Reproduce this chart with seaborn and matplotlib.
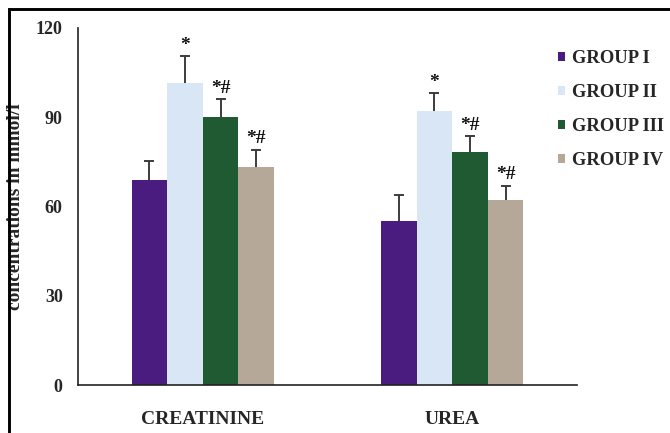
import matplotlib
matplotlib.use("Agg")
import matplotlib.pyplot as plt
from matplotlib.patches import Rectangle
import seaborn as sns
import pandas as pd

# Serum markers per treatment group (mean and upper SD)
parameters = ["CREATININE", "UREA"]
groups = ["GROUP I", "GROUP II", "GROUP III", "GROUP IV"]
creatinine_mean = [68.8, 101.6, 90.0, 73.2]
creatinine_sd = [6.4, 8.9, 6.0, 5.9]
urea_mean = [55.2, 92.1, 78.2, 62.1]
urea_sd = [8.7, 6.0, 5.5, 4.9]
significance = ["", "*", "*#", "*#"]
y_ticks = [0, 30, 60, 90, 120]

colors = ["#4b1c80", "#d8e6f5", "#1f5a32", "#b5a898"]

rows = []
for p, means, sds in [(parameters[0], creatinine_mean, creatinine_sd),
                      (parameters[1], urea_mean, urea_sd)]:
    for g, m, s, sig in zip(groups, means, sds, significance):
        rows.append({"parameter": p, "group": g, "value": m, "sd": s, "sig": sig})
df = pd.DataFrame(rows)

sns.set_style("white")
plt.rcParams["font.family"] = ["Liberation Serif", "DejaVu Serif"]
plt.rcParams["font.weight"] = "bold"

W, H = 670, 433
fig = plt.figure(figsize=(W / 100, H / 100), dpi=100)
ax = fig.add_axes([78 / W, 1 - 385 / H, (577 - 78) / W, (385 - 28) / H])

sns.barplot(data=df, x="parameter", y="value", hue="group", order=parameters,
            hue_order=groups, palette=colors, width=0.57, gap=0,
            errorbar=None, saturation=1, linewidth=0, ax=ax)

# Upward-only error bars and significance marks on each bar
for bar_cont, g in zip(ax.containers, groups):
    sub = df[df["group"] == g].set_index("parameter").loc[parameters]
    for rect, (_, r) in zip(bar_cont.patches, sub.iterrows()):
        cx = rect.get_x() + rect.get_width() / 2
        top = rect.get_height()
        _, caps, _ = ax.errorbar(cx, top, yerr=[[0], [r["sd"]]], fmt="none",
                                 ecolor="#3c3c3c", elinewidth=1.4, capsize=3.8,
                                 capthick=1.4)
        caps[0].set_visible(False)
        if r["sig"]:
            ax.text(cx, top + r["sd"] + 0.8, r["sig"], ha="center", va="bottom",
                    fontsize=14, fontweight="bold", color="#111111")

ax.set_ylim(0, 120)
ax.set_xlim(-0.5, 1.5)
ax.set_yticks(y_ticks)
ax.set_yticklabels([str(t) for t in y_ticks], fontsize=13, fontweight="bold")
ax.tick_params(axis="y", direction="out", length=5, width=1.1, color="#222222", pad=6)
ax.tick_params(axis="x", length=0, pad=19, labelsize=14)
for lab in ax.get_xticklabels():
    lab.set_fontweight("bold")
ax.set_xlabel("")
ax.set_ylabel("")
fig.text(16 / W, 1 - 207 / H, "concentrations in mmol/l", rotation=90,
         ha="center", va="center", fontsize=14, fontweight="bold")
for side in ["top", "right"]:
    ax.spines[side].set_visible(False)
for side in ["left", "bottom"]:
    ax.spines[side].set_color("#222222")
    ax.spines[side].set_linewidth(1.2)

ax.legend(loc="upper left", bbox_to_anchor=(558 / W, 1 - 50 / H),
          bbox_transform=fig.transFigure, frameon=False,
          borderpad=0, borderaxespad=0,
          handlelength=0.4, handleheight=0.4, handletextpad=0.35,
          labelspacing=0.92, prop={"size": 13.3, "weight": "bold"})

# Outer frame around the figure
left = 8.7 / W
top = 1 - 8.7 / H
fig.patches.append(Rectangle((left, -0.5), 2.0, top + 0.5,
                             transform=fig.transFigure, fill=False,
                             edgecolor="black", linewidth=2.1, zorder=10))

fig.savefig("out.png", dpi=100)
